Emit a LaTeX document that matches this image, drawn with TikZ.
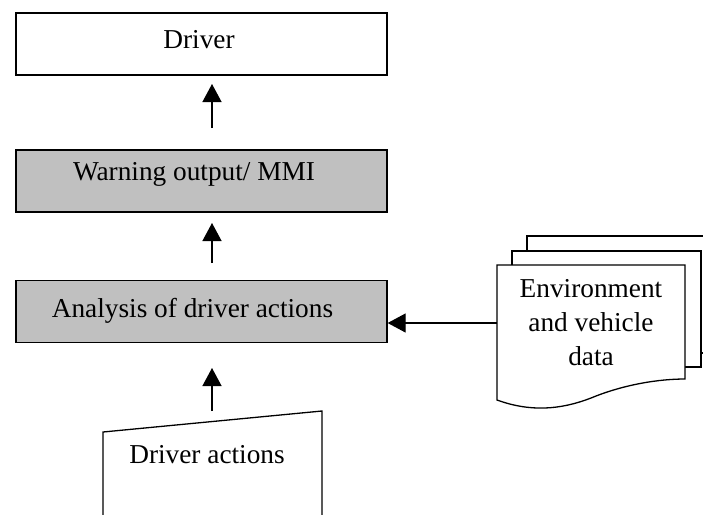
\documentclass[tikz,border=0pt]{standalone}
\usepackage{fontspec}
\setmainfont{Liberation Serif}
\usetikzlibrary{arrows.meta}
\definecolor{boxgray}{HTML}{C0C0C0}
\begin{document}
\begin{tikzpicture}[x=1pt,y=-1pt,line width=1.3pt,
  box/.style={draw,minimum width=371pt,minimum height=62pt,inner sep=0pt,
    font=\fontsize{27.3}{34}\selectfont,text height=18pt},
  txt/.style={font=\fontsize{27.3}{34}\selectfont,inner sep=0pt},
  arr/.style={-{Triangle[length=18pt,width=19pt]},line width=1.3pt},
  docsheet/.style={draw,fill=white}]
\useasboundingbox (0,0) rectangle (703,514);
% main boxes
\node[box,fill=white,text depth=10pt] (driver) at (201.5,44) {Driver\hspace*{5pt}};
\node[box,fill=boxgray,text depth=20pt] (warn) at (201.5,181) {Warning output/ MMI\hspace*{15pt}};
\node[box,fill=boxgray,text depth=7pt] (ana) at (201.5,311.5) {Analysis of driver actions\hspace*{18pt}};
% vertical arrows
\coordinate (a1s) at (212,128); \coordinate (a1e) at (212,84);
\coordinate (a2s) at (212,263); \coordinate (a2e) at (212,223);
\coordinate (a3s) at (212,411); \coordinate (a3e) at (212,368);
\draw[arr] (a1s) -- (a1e);
\draw[arr] (a2s) -- (a2e);
\draw[arr] (a3s) -- (a3e);
% driver actions (manual input)
\draw (103,520) -- (103,432) -- (322,411) -- (322,520);
\node[txt,anchor=base] (dact) at (207,463) {Driver actions};
% stacked documents
\draw[docsheet] (527,236) rectangle (720,353);
\draw[docsheet] (512,251) rectangle (701,367);
\draw[docsheet] (497,265) -- (685,265) -- (685,379)
  .. controls (660,379) and (625,384) .. (591,398)
  .. controls (560,410) and (530,412) .. (497,400) -- cycle;
\node[txt,align=center] (env) at (591,323) {Environment\\and vehicle\\data};
\coordinate (envin) at (497,323);
\draw[arr] (envin) -- (ana.east |- envin);
\end{tikzpicture}
\end{document}
